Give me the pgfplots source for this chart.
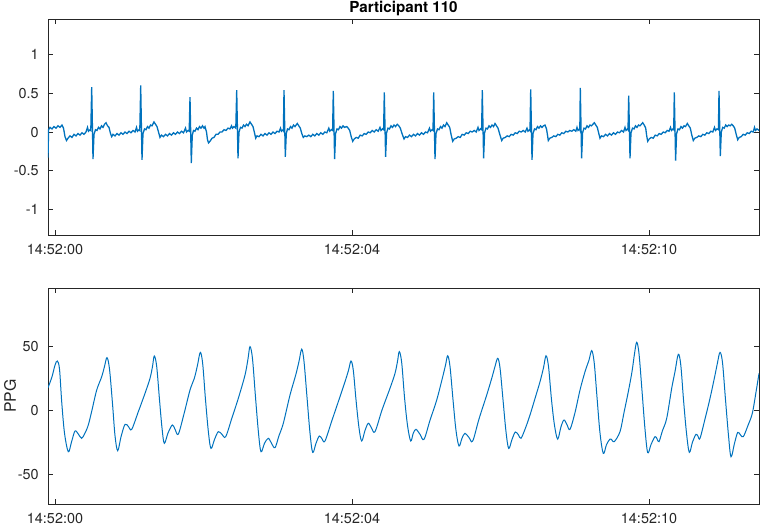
\documentclass[border=0pt]{standalone}
\usepackage{fontspec}
\setmainfont{TeX Gyre Heros}
\usepackage{pgfplots}
\pgfplotsset{compat=1.18}
\definecolor{mblue}{RGB}{0,114,189}
\definecolor{mgray}{RGB}{38,38,38}

% 1 px of the reference = 0.5pt
\pgfplotsset{
  sig/.style={
    scale only axis, width=355.5pt, height=108pt,
    anchor=north west,
    xmin=48, xmax=759,
    xtick={55,352,649},
    xticklabels={14:52:00,14:52:04,14:52:10},
    tick align=inside, major tick length=2.5pt,
    axis line style={mgray, line width=0.4pt},
    every tick/.style={mgray, line width=0.4pt},
    tick label style={font=\fontsize{7.2}{8}\selectfont, text=mgray},
    xticklabel style={yshift=-1.1pt},
    yticklabel style={xshift=-1.1pt},
    /pgf/number format/assume math mode=true,
    every axis title shift=0pt,
    every axis title/.style={at={(0.5,1)}, anchor=south, inner sep=0pt, yshift=1.2pt,
      font=\bfseries\fontsize{7.6}{9}\selectfont, text=black},
  }
}

\begin{document}
\begin{tikzpicture}
\path[use as bounding box] (0,0) rectangle (380pt,-263pt);

% ECG
\begin{axis}[sig, at={(24pt,-9.5pt)},
  ymin=-1.329, ymax=1.458,
  ytick={-1,-0.5,0,0.5,1},
  title={Participant 110}]
\addplot[mblue, line width=0.65pt] coordinates {
(48,-0.33)(48.6,0.03)(50,0.06)(52,0.04)(54,0.07)(56,0.05)(58,0.08)(60,0.06)(62,0.09)(63.5,0.05)(65,-0.06)(66.5,-0.11)(68,-0.08)(70,-0.05)(72,-0.07)(74,-0.03)(76,-0.05)(78,-0.02)(80,-0.04)(82,-0.01)(84,-0.03)(86,0.0)(87.5,0.06)(88.5,0.01)(90,0.03)(90.8,0.02)
(91.7,0.58)(93,-0.35)(94,-0.03)(95.5,0.03)(97,0.02)(98.5,0.06)(100,0.04)(101.5,0.08)(103,0.06)(104.5,0.1)(106,0.12)(107.5,0.08)(109,0.06)(110.5,-0.02)(111.7,-0.06)(113,-0.03)(115,-0.05)(117,-0.02)(119,-0.04)(121,-0.01)(123,-0.03)(125,0.0)(127,-0.02)(129,0.01)(131,-0.01)(133,0.02)(135,0.0)(136.5,0.06)(137.5,0.01)(139,0.03)(139.8,0.02)
(140.7,0.60)(142,-0.36)(143,-0.02)(144.5,0.04)(146,0.03)(147.5,0.07)(149,0.05)(150.5,0.09)(152,0.08)(154,0.13)(155.5,0.10)(157,0.07)(158.5,0.0)(160,-0.07)(161.5,-0.04)(163.5,-0.06)(165.5,-0.03)(167.5,-0.05)(169.5,-0.02)(171.5,-0.04)(173.5,-0.01)(175.5,-0.03)(177.5,0.0)(179.5,-0.02)(181.5,0.01)(183.5,-0.01)(185.5,0.05)(186.5,0.0)(188,0.02)(189.2,0.01)
(190,0.45)(191.3,-0.40)(192.3,-0.04)(193.5,0.02)(195,0.01)(196.5,0.05)(198,0.03)(199.5,0.07)(201,0.05)(202.5,0.08)(204,0.05)(205,0.07)(206.5,0.0)(207.5,-0.1)(208.5,-0.14)(210,-0.12)(212,-0.08)(214,-0.07)(216,-0.03)(218,-0.03)(220,0.0)(222,0.0)(224,0.03)(226,0.02)(228,0.05)(230,0.04)(231.5,0.08)(232.5,0.05)(234,0.07)(235.8,0.05)
(236.7,0.54)(238,-0.34)(239,0.0)(240.5,0.06)(242,0.05)(243.5,0.09)(245,0.07)(246.5,0.1)(248,0.08)(250,0.13)(251.5,0.10)(253,0.07)(254.5,-0.01)(255.7,-0.08)(257,-0.05)(259,-0.06)(261,-0.03)(263,-0.05)(265,-0.02)(267,-0.04)(269,-0.01)(271,-0.03)(273,0.0)(275,-0.02)(277,0.01)(279,0.0)(280.5,0.05)(281.5,0.01)(283,0.03)(283.4,0.02)
(284,0.54)(285.3,-0.32)(286.3,-0.02)(287.5,0.04)(289,0.03)(290.5,0.07)(292,0.05)(293.5,0.09)(295,0.07)(297.3,0.11)(298.8,0.08)(300.3,0.05)(301.8,-0.02)(303.3,-0.07)(304.8,-0.05)(306.8,-0.06)(308.8,-0.04)(310.8,-0.06)(312.8,-0.03)(314.8,-0.05)(316.8,-0.02)(318.8,-0.04)(320.8,-0.01)(322.8,-0.03)(324.8,0.0)(326.8,-0.01)(328.8,0.05)(329.8,0.01)(331.3,0.03)(332.6,0.02)
(333.3,0.53)(334.6,-0.35)(335.6,-0.02)(337,0.04)(338.5,0.03)(340,0.07)(341.5,0.05)(343,0.08)(344.5,0.06)(346.7,0.07)(348.2,0.05)(349.7,0.02)(351.2,-0.06)(352.7,-0.12)(354.2,-0.09)(356.2,-0.07)(358.2,-0.08)(360.2,-0.04)(362.2,-0.05)(364.2,-0.02)(366.2,-0.03)(368.2,0.0)(370.2,-0.01)(372.2,0.02)(374.2,0.0)(376.2,0.03)(378.2,0.01)(380,0.06)(381,0.02)(382.5,0.04)(383.6,0.03)
(384.3,0.51)(385.6,-0.32)(386.6,-0.01)(388,0.05)(389.5,0.04)(391,0.08)(392.5,0.06)(394,0.09)(395.5,0.07)(397.3,0.10)(398.8,0.08)(400.3,0.05)(402,-0.02)(404,-0.09)(405.5,-0.06)(407.5,-0.07)(409.5,-0.04)(411.5,-0.06)(413.5,-0.03)(415.5,-0.05)(417.5,-0.02)(419.5,-0.04)(421.5,-0.01)(423.5,-0.03)(425.5,0.0)(427.5,-0.01)(429.5,0.05)(430.5,0.01)(432,0.03)(433,0.02)
(433.7,0.51)(435,-0.35)(436,-0.02)(437.5,0.04)(439,0.03)(440.5,0.07)(442,0.05)(443.5,0.09)(445,0.07)(446.7,0.12)(448.2,0.09)(449.7,0.06)(451.2,-0.04)(452.7,-0.12)(454.2,-0.09)(456.2,-0.08)(458.2,-0.06)(460.2,-0.07)(462.2,-0.03)(464.2,-0.04)(466.2,-0.01)(468.2,-0.02)(470.2,0.01)(472.2,0.0)(474.2,0.02)(476.2,0.0)(478,0.06)(479,0.02)(480.5,0.04)(481.6,0.03)
(482.3,0.54)(483.6,-0.34)(484.6,-0.01)(486,0.05)(487.5,0.04)(489,0.08)(490.5,0.06)(492,0.09)(493.5,0.07)(495,0.11)(496.5,0.08)(498,0.05)(500,-0.04)(501.7,-0.11)(503.2,-0.08)(505.2,-0.07)(507.2,-0.05)(509.2,-0.06)(511.2,-0.03)(513.2,-0.04)(515.2,-0.01)(517.2,-0.02)(519.2,0.01)(521.2,0.0)(523.2,0.02)(525.2,0.0)(527,0.05)(528,0.01)(529.5,0.03)(530,0.02)
(530.7,0.55)(532,-0.36)(533,-0.02)(534.5,0.04)(536,0.03)(537.5,0.07)(539,0.05)(540.5,0.08)(542,0.06)(543.5,0.08)(545,0.09)(546.5,0.04)(547.5,-0.04)(548.3,-0.11)(549.8,-0.08)(551.8,-0.07)(553.8,-0.05)(555.8,-0.06)(557.8,-0.03)(559.8,-0.04)(561.8,-0.01)(563.8,-0.02)(565.8,0.01)(567.8,0.0)(569.8,0.02)(571.8,0.01)(573.8,0.03)(575.8,0.01)(577,0.06)(578,0.02)(579.5,0.04)(579.8,0.03)
(580.3,0.57)(581.6,-0.34)(582.6,-0.01)(584,0.05)(585.5,0.04)(587,0.08)(588.5,0.06)(590,0.09)(591.5,0.08)(594.3,0.12)(595.8,0.09)(597.3,0.06)(598.8,-0.02)(600,-0.08)(601.5,-0.05)(603.5,-0.06)(605.5,-0.03)(607.5,-0.05)(609.5,-0.02)(611.5,-0.04)(613.5,-0.01)(615.5,-0.03)(617.5,0.0)(619.5,-0.01)(621.5,0.02)(623.5,0.0)(625,0.06)(626,0.02)(627.5,0.04)(628,0.03)
(628.7,0.47)(630,-0.34)(631,-0.01)(632.5,0.05)(634,0.04)(635.5,0.08)(637,0.06)(638.5,0.09)(640,0.08)(642.7,0.12)(644.2,0.09)(645.7,0.05)(646.7,-0.05)(647.7,-0.12)(649.2,-0.09)(651.2,-0.07)(653.2,-0.08)(655.2,-0.04)(657.2,-0.05)(659.2,-0.02)(661.2,-0.03)(663.2,0.0)(665.2,-0.01)(667.2,0.02)(669,0.01)(670.5,0.06)(671.5,0.02)(673,0.04)(673.7,0.03)
(674.3,0.51)(675.6,-0.37)(676.6,-0.02)(678,0.04)(679.5,0.03)(681,0.07)(682.5,0.05)(684,0.08)(685.5,0.07)(687.3,0.11)(688.8,0.08)(690.3,0.05)(691.8,-0.04)(693.3,-0.11)(694.8,-0.08)(696.8,-0.07)(698.8,-0.05)(700.8,-0.06)(702.8,-0.03)(704.8,-0.04)(706.8,-0.01)(708.8,-0.02)(710.8,0.01)(712.8,0.0)(714.5,0.06)(715.5,0.02)(717,0.04)(718.4,0.03)
(719,0.53)(720.3,-0.31)(721.3,0.0)(722.7,0.06)(724.2,0.05)(725.7,0.09)(727.2,0.07)(728.7,0.09)(730.2,0.08)(731.7,0.10)(733.2,0.08)(734.7,0.05)(736.2,-0.03)(737.7,-0.10)(739.2,-0.07)(741.2,-0.06)(743.2,-0.03)(745.2,-0.04)(747.2,-0.01)(749.2,-0.02)(751.2,0.01)(753.2,0.0)(754.5,0.06)(755.5,0.02)(757,0.04)(759,0.02)
};
\end{axis}

% PPG
\begin{axis}[sig, at={(24pt,-144pt)},
  ymin=-73.4, ymax=95.3,
  ytick={-50,0,50},
  ylabel={PPG},
  ylabel style={at={(axis description cs:-0.0534,0.5)}, anchor=center,
    font=\fontsize{7.9}{9}\selectfont, text=mgray}]
\addplot[mblue, line width=0.5pt, smooth, tension=0.55] coordinates {
(48,17.4)(52,26)(55,35)(57.3,38.3)(59.5,32)(61.7,6.5)(64.5,-18)(68.3,-32.6)(71.5,-25)(75,-16.4)(78.5,-19)(81.7,-22.1)(85,-18)(88.3,-11.7)(92,0)(96.7,15.6)(101.7,26)(104.5,34)(107,40.9)
(109.5,32)(112.5,5)(115,-20)(117.7,-31.8)(121,-21)(125,-11.2)(128.5,-13)(131.7,-15.1)(138,-2)(145,13)(150,24.7)(152.5,34)(154.3,42.2)
(156.7,34)(159.5,8)(162,-14)(164.3,-26)(168,-18)(172.3,-11.7)(175,-15)(178.3,-18.8)(184,-3)(190,15.6)(194.3,24.7)(197.5,35)(200.3,45)
(202.7,36)(205.5,8)(208.5,-18)(211,-30)(214.5,-23)(218.3,-16.9)(222,-19)(225.7,-20.8)(232,-6)(238.3,9.1)(245,27.3)(248,40)(250,49.5)
(252.5,40)(255.5,10)(258.5,-18)(261,-32.6)(264.5,-26)(268.3,-22.1)(271.5,-26)(275,-29.4)(279,-20)(283.3,-10.4)(290,11.7)(295.7,27.3)(299,38)(301.7,47.5)
(304,38)(307,10)(310,-18)(312.7,-33.1)(316,-26)(319.3,-20.3)(322,-22.5)(325,-24.2)(332,-8)(340,10.4)(345,22.1)(348.5,31)(351,38.3)
(353.3,31)(356,8)(359,-14)(361.7,-24.2)(365,-16)(368.3,-10.4)(371.5,-14)(375,-16.9)(382,0)(390,17)(395,28.6)(397.5,38)(399.3,45.6)
(401.7,37)(404.5,10)(407.5,-12)(410.7,-24.2)(413.3,-18)(416,-15.1)(420,-19)(424,-22.9)(430,-8)(436.7,7.8)(442.3,24.7)(445.5,35)(447.7,42.4)
(450,34)(453,8)(456,-16)(459,-28.1)(462,-22)(465,-18.2)(469,-21.5)(472.7,-24.2)(479,-7)(486.7,11.7)(491.7,24.7)(495,34)(497.7,40.4)
(500,33)(503,8)(506,-17)(508.7,-30)(512,-23)(515.3,-17.2)(518.5,-19.5)(521,-22.1)(525.5,-14)(530,-3.9)(535,9)(540,22.1)(543.5,33)(546,42.4)
(548.5,34)(551.5,8)(554.5,-12)(557.7,-22.7)(561,-13)(564,-7.8)(567,-11.5)(570,-15.1)(575,-2)(580,15.6)(585,29.9)(589,39)(591.7,46.4)
(594.2,37)(597,10)(600,-18)(603.3,-33.9)(606.5,-27)(610,-22.7)(612,-23.5)(614.3,-24.7)(620,-16.9)(624,-2)(628.3,14.3)(632,30)(634.5,44)(636.7,52.9)
(639,44)(642,15)(645,-15)(647.7,-33.3)(651,-27)(655,-20.8)(657,-22.5)(659,-24.7)(662.5,-16)(666.7,-6.5)(671.7,17)(675,30)(678.3,43.5)
(680.8,35)(683.5,8)(686.5,-18)(689.3,-33.1)(692.5,-25)(696,-19)(698,-20.5)(700,-22.1)(705,-7)(710,9.1)(715,27.3)(717.5,37)(720,45)
(722.5,37)(725.5,8)(728.5,-20)(731,-36.5)(734.5,-26)(737.7,-17.5)(740.5,-19.5)(743.3,-20.8)(748,-12)(752.3,-2.6)(756,14)(759,28.6)
};
\end{axis}
\end{tikzpicture}
\end{document}
